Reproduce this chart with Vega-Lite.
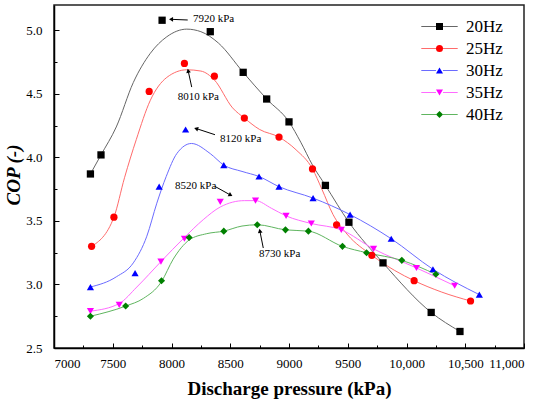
{
  "$schema": "https://vega.github.io/schema/vega-lite/v6.json",
  "description": "COP against discharge pressure for five compressor frequencies",
  "width": 470,
  "height": 343,
  "autosize": {"type": "none"},
  "padding": {"left": 54, "top": 5, "right": 26, "bottom": 56},
  "background": "white",
  "datasets": {
    "markers": [
      {"series": "20Hz", "p": 7310, "cop": 3.87}, {"series": "20Hz", "p": 7400, "cop": 4.02},
      {"series": "20Hz", "p": 7920, "cop": 5.08}, {"series": "20Hz", "p": 8330, "cop": 4.99},
      {"series": "20Hz", "p": 8610, "cop": 4.67}, {"series": "20Hz", "p": 8810, "cop": 4.46},
      {"series": "20Hz", "p": 9000, "cop": 4.28}, {"series": "20Hz", "p": 9310, "cop": 3.78},
      {"series": "20Hz", "p": 9510, "cop": 3.49}, {"series": "20Hz", "p": 9800, "cop": 3.17},
      {"series": "20Hz", "p": 10210, "cop": 2.78}, {"series": "20Hz", "p": 10455, "cop": 2.63},
      {"series": "25Hz", "p": 7320, "cop": 3.3}, {"series": "25Hz", "p": 7510, "cop": 3.53},
      {"series": "25Hz", "p": 7810, "cop": 4.52}, {"series": "25Hz", "p": 8110, "cop": 4.74},
      {"series": "25Hz", "p": 8365, "cop": 4.64}, {"series": "25Hz", "p": 8620, "cop": 4.31},
      {"series": "25Hz", "p": 8915, "cop": 4.16}, {"series": "25Hz", "p": 9200, "cop": 3.91},
      {"series": "25Hz", "p": 9405, "cop": 3.47}, {"series": "25Hz", "p": 9705, "cop": 3.23},
      {"series": "25Hz", "p": 10065, "cop": 3.03}, {"series": "25Hz", "p": 10545, "cop": 2.87},
      {"series": "30Hz", "p": 7310, "cop": 2.98}, {"series": "30Hz", "p": 7690, "cop": 3.09},
      {"series": "30Hz", "p": 7895, "cop": 3.77}, {"series": "30Hz", "p": 8120, "cop": 4.22},
      {"series": "30Hz", "p": 8445, "cop": 3.94}, {"series": "30Hz", "p": 8745, "cop": 3.85},
      {"series": "30Hz", "p": 8915, "cop": 3.77}, {"series": "30Hz", "p": 9205, "cop": 3.68},
      {"series": "30Hz", "p": 9520, "cop": 3.55}, {"series": "30Hz", "p": 9870, "cop": 3.36},
      {"series": "30Hz", "p": 10225, "cop": 3.12}, {"series": "30Hz", "p": 10620, "cop": 2.92},
      {"series": "35Hz", "p": 7310, "cop": 2.79}, {"series": "35Hz", "p": 7555, "cop": 2.84},
      {"series": "35Hz", "p": 7910, "cop": 3.18}, {"series": "35Hz", "p": 8110, "cop": 3.36},
      {"series": "35Hz", "p": 8415, "cop": 3.65}, {"series": "35Hz", "p": 8715, "cop": 3.66},
      {"series": "35Hz", "p": 8975, "cop": 3.54}, {"series": "35Hz", "p": 9190, "cop": 3.48},
      {"series": "35Hz", "p": 9445, "cop": 3.43}, {"series": "35Hz", "p": 9720, "cop": 3.28},
      {"series": "35Hz", "p": 10085, "cop": 3.13}, {"series": "35Hz", "p": 10410, "cop": 2.99},
      {"series": "40Hz", "p": 7310, "cop": 2.75}, {"series": "40Hz", "p": 7610, "cop": 2.83},
      {"series": "40Hz", "p": 7915, "cop": 3.03}, {"series": "40Hz", "p": 8150, "cop": 3.37},
      {"series": "40Hz", "p": 8445, "cop": 3.42}, {"series": "40Hz", "p": 8730, "cop": 3.47},
      {"series": "40Hz", "p": 8970, "cop": 3.43}, {"series": "40Hz", "p": 9165, "cop": 3.42},
      {"series": "40Hz", "p": 9455, "cop": 3.3}, {"series": "40Hz", "p": 9660, "cop": 3.25},
      {"series": "40Hz", "p": 9960, "cop": 3.19}, {"series": "40Hz", "p": 10250, "cop": 3.08}
    ],
    "curves": [
      {"series": "20Hz", "p": 7310, "cop": 3.87}, {"series": "20Hz", "p": 7400, "cop": 4.02},
      {"series": "20Hz", "p": 7530, "cop": 4.24}, {"series": "20Hz", "p": 7675, "cop": 4.59},
      {"series": "20Hz", "p": 7820, "cop": 4.82}, {"series": "20Hz", "p": 7960, "cop": 4.95},
      {"series": "20Hz", "p": 8130, "cop": 5.01}, {"series": "20Hz", "p": 8250, "cop": 4.99},
      {"series": "20Hz", "p": 8400, "cop": 4.9}, {"series": "20Hz", "p": 8610, "cop": 4.67},
      {"series": "20Hz", "p": 8810, "cop": 4.46}, {"series": "20Hz", "p": 9000, "cop": 4.28},
      {"series": "20Hz", "p": 9100, "cop": 4.12}, {"series": "20Hz", "p": 9200, "cop": 3.94},
      {"series": "20Hz", "p": 9310, "cop": 3.78}, {"series": "20Hz", "p": 9510, "cop": 3.49},
      {"series": "20Hz", "p": 9800, "cop": 3.17}, {"series": "20Hz", "p": 10210, "cop": 2.78},
      {"series": "20Hz", "p": 10455, "cop": 2.63},
      {"series": "25Hz", "p": 7320, "cop": 3.3}, {"series": "25Hz", "p": 7510, "cop": 3.53},
      {"series": "25Hz", "p": 7600, "cop": 3.84}, {"series": "25Hz", "p": 7700, "cop": 4.14},
      {"series": "25Hz", "p": 7820, "cop": 4.45}, {"series": "25Hz", "p": 7960, "cop": 4.63},
      {"series": "25Hz", "p": 8130, "cop": 4.69}, {"series": "25Hz", "p": 8250, "cop": 4.68},
      {"series": "25Hz", "p": 8365, "cop": 4.61}, {"series": "25Hz", "p": 8520, "cop": 4.39},
      {"series": "25Hz", "p": 8620, "cop": 4.31}, {"series": "25Hz", "p": 8750, "cop": 4.22},
      {"series": "25Hz", "p": 8915, "cop": 4.16}, {"series": "25Hz", "p": 9060, "cop": 4.06},
      {"series": "25Hz", "p": 9200, "cop": 3.91}, {"series": "25Hz", "p": 9280, "cop": 3.75},
      {"series": "25Hz", "p": 9375, "cop": 3.55}, {"series": "25Hz", "p": 9500, "cop": 3.39},
      {"series": "25Hz", "p": 9705, "cop": 3.23}, {"series": "25Hz", "p": 9900, "cop": 3.11},
      {"series": "25Hz", "p": 10065, "cop": 3.03}, {"series": "25Hz", "p": 10300, "cop": 2.94},
      {"series": "25Hz", "p": 10545, "cop": 2.87},
      {"series": "30Hz", "p": 7310, "cop": 2.98}, {"series": "30Hz", "p": 7530, "cop": 3.06},
      {"series": "30Hz", "p": 7675, "cop": 3.17}, {"series": "30Hz", "p": 7790, "cop": 3.38},
      {"series": "30Hz", "p": 7875, "cop": 3.64}, {"series": "30Hz", "p": 7955, "cop": 3.85},
      {"series": "30Hz", "p": 8045, "cop": 4.03}, {"series": "30Hz", "p": 8170, "cop": 4.11},
      {"series": "30Hz", "p": 8330, "cop": 4.03}, {"series": "30Hz", "p": 8445, "cop": 3.94},
      {"series": "30Hz", "p": 8600, "cop": 3.89}, {"series": "30Hz", "p": 8745, "cop": 3.85},
      {"series": "30Hz", "p": 8915, "cop": 3.77}, {"series": "30Hz", "p": 9205, "cop": 3.68},
      {"series": "30Hz", "p": 9520, "cop": 3.55}, {"series": "30Hz", "p": 9870, "cop": 3.36},
      {"series": "30Hz", "p": 10225, "cop": 3.12}, {"series": "30Hz", "p": 10620, "cop": 2.92},
      {"series": "35Hz", "p": 7310, "cop": 2.79}, {"series": "35Hz", "p": 7555, "cop": 2.85},
      {"series": "35Hz", "p": 7705, "cop": 2.98}, {"series": "35Hz", "p": 7910, "cop": 3.18},
      {"series": "35Hz", "p": 8110, "cop": 3.37}, {"series": "35Hz", "p": 8270, "cop": 3.51},
      {"series": "35Hz", "p": 8415, "cop": 3.61}, {"series": "35Hz", "p": 8620, "cop": 3.66},
      {"series": "35Hz", "p": 8715, "cop": 3.66}, {"series": "35Hz", "p": 8850, "cop": 3.6},
      {"series": "35Hz", "p": 8975, "cop": 3.54}, {"series": "35Hz", "p": 9190, "cop": 3.48},
      {"series": "35Hz", "p": 9445, "cop": 3.43}, {"series": "35Hz", "p": 9720, "cop": 3.28},
      {"series": "35Hz", "p": 10085, "cop": 3.13}, {"series": "35Hz", "p": 10410, "cop": 2.99},
      {"series": "40Hz", "p": 7310, "cop": 2.75}, {"series": "40Hz", "p": 7610, "cop": 2.83},
      {"series": "40Hz", "p": 7760, "cop": 2.89}, {"series": "40Hz", "p": 7913, "cop": 3.02},
      {"series": "40Hz", "p": 8015, "cop": 3.2}, {"series": "40Hz", "p": 8150, "cop": 3.35},
      {"series": "40Hz", "p": 8300, "cop": 3.4}, {"series": "40Hz", "p": 8445, "cop": 3.42},
      {"series": "40Hz", "p": 8600, "cop": 3.46}, {"series": "40Hz", "p": 8730, "cop": 3.47},
      {"series": "40Hz", "p": 8970, "cop": 3.43}, {"series": "40Hz", "p": 9165, "cop": 3.42},
      {"series": "40Hz", "p": 9455, "cop": 3.3}, {"series": "40Hz", "p": 9660, "cop": 3.25},
      {"series": "40Hz", "p": 9960, "cop": 3.19}, {"series": "40Hz", "p": 10250, "cop": 3.08}
    ],
    "notes": [
      {"label": "7920 kPa", "p": 8183, "cop": 5.09},
      {"label": "8010 kPa", "p": 8053, "cop": 4.476},
      {"label": "8120 kPa", "p": 8413, "cop": 4.147},
      {"label": "8520 kPa", "p": 8030, "cop": 3.772},
      {"label": "8730 kPa", "p": 8745, "cop": 3.242}
    ],
    "arrows": [
      {"p1": 8138, "c1": 5.082, "p2": 8002, "c2": 5.087, "angle": 270},
      {"p1": 8172, "c1": 4.554, "p2": 8143, "c2": 4.677, "angle": 348},
      {"p1": 8370, "c1": 4.179, "p2": 8215, "c2": 4.226, "angle": 288},
      {"p1": 8370, "c1": 3.772, "p2": 8498, "c2": 3.706, "angle": 119},
      {"p1": 8781, "c1": 3.287, "p2": 8753, "c2": 3.417, "angle": 349}
    ]
  },
  "layer": [
    {
      "data": {"name": "curves"},
      "mark": {"type": "line", "interpolate": "monotone", "strokeWidth": 1},
      "encoding": {
        "x": {
          "field": "p", "type": "quantitative",
          "scale": {"domain": [7000, 11000], "nice": false, "zero": false},
          "axis": {"orient": "bottom", "values": [7250, 7750, 8250, 8750, 9250, 9750, 10250, 10750], "labels": false, "domain": false, "tickSize": -3, "title": null}
        },
        "y": {
          "field": "cop", "type": "quantitative",
          "scale": {"domain": [2.5, 5.2], "nice": false, "zero": false},
          "axis": {"orient": "left", "values": [2.75, 3.25, 3.75, 4.25, 4.75], "labels": false, "domain": false, "tickSize": -3, "title": null}
        },
        "stroke": {
          "field": "series", "type": "nominal",
          "scale": {"range": ["#666666", "#ff6b6b", "#6b6bff", "#ff6bff", "#5fb55f"]},
          "legend": {
            "orient": "none", "legendX": 377, "legendY": 13, "title": null, "padding": 0,
            "labelFont": "Liberation Serif", "labelFontSize": 17, "labelOpacity": 0,
            "symbolType": "M-5.2,0H-1M1,0H5.2", "symbolSize": 49, "symbolStrokeWidth": 1,
            "labelOffset": 18, "rowPadding": 4
          }
        }
      }
    },
    {
      "data": {"name": "markers"},
      "mark": {"type": "point", "filled": true, "opacity": 1},
      "encoding": {
        "x": {
          "field": "p", "type": "quantitative",
          "axis": {
            "orient": "bottom", "values": [7000, 7500, 8000, 8500, 9000, 9500, 10000, 10500, 11000],
            "labelExpr": "datum.value >= 10000 ? format(datum.value, ',') : format(datum.value, 'd')",
            "ticks": false, "labelPadding": 9,
            "title": "Discharge pressure (kPa)", "titleY": 40, "titleBaseline": "middle"
          }
        },
        "y": {
          "field": "cop", "type": "quantitative",
          "axis": {
            "orient": "left", "values": [2.5, 3.0, 3.5, 4.0, 4.5, 5.0], "format": ".1f",
            "ticks": false, "labelPadding": 12,
            "title": "COP (-)", "titleFontStyle": "italic", "titleX": -41, "titleY": 169.5,
            "titleAlign": "center", "titleBaseline": "middle", "titleAngle": -90
          }
        },
        "color": {
          "field": "series", "type": "nominal",
          "scale": {"domain": ["20Hz", "25Hz", "30Hz", "35Hz", "40Hz"], "range": ["#000000", "#ff0000", "#0000ff", "#ff00ff", "#008000"]},
          "legend": {
            "orient": "none", "legendX": 377, "legendY": 13, "title": null, "padding": 0,
            "labelFont": "Liberation Serif", "labelFontSize": 17, "labelColor": "black",
            "symbolSize": 49, "symbolOpacity": 1, "labelOffset": 18, "rowPadding": 4
          }
        },
        "shape": {
          "field": "series", "type": "nominal",
          "scale": {"domain": ["20Hz", "25Hz", "30Hz", "35Hz", "40Hz"], "range": ["square", "circle", "triangle-up", "triangle-down", "diamond"]}
        },
        "size": {
          "field": "series", "type": "nominal",
          "scale": {"range": [53, 50, 105, 105, 72]},
          "legend": null
        }
      }
    },
    {
      "data": {"name": "notes"},
      "mark": {"type": "text", "align": "left", "baseline": "middle", "font": "Liberation Serif", "fontSize": 11, "color": "black"},
      "encoding": {
        "x": {
          "field": "p", "type": "quantitative",
          "axis": {"orient": "bottom", "values": [7000, 7500, 8000, 8500, 9000, 9500, 10000, 10500, 11000], "labels": false, "domain": false, "tickSize": -5, "title": null}
        },
        "y": {
          "field": "cop", "type": "quantitative",
          "axis": {"orient": "left", "values": [2.5, 3.0, 3.5, 4.0, 4.5, 5.0], "labels": false, "domain": false, "tickSize": -5, "title": null}
        },
        "text": {"field": "label"}
      }
    },
    {
      "data": {"name": "arrows"},
      "mark": {"type": "rule", "color": "black", "strokeWidth": 1},
      "encoding": {
        "x": {"field": "p1", "type": "quantitative", "axis": null},
        "y": {"field": "c1", "type": "quantitative", "axis": null},
        "x2": {"field": "p2"},
        "y2": {"field": "c2"}
      }
    },
    {
      "data": {"name": "arrows"},
      "mark": {"type": "point", "shape": "triangle", "filled": true, "color": "black", "size": 22, "opacity": 1},
      "encoding": {
        "x": {"field": "p2", "type": "quantitative", "axis": null},
        "y": {"field": "c2", "type": "quantitative", "axis": null},
        "angle": {"field": "angle", "type": "quantitative", "scale": null}
      }
    }
  ],
  "resolve": {"axis": {"x": "independent", "y": "independent"}},
  "config": {
    "font": "Liberation Serif",
    "view": {"stroke": "#222222", "strokeWidth": 1.5},
    "axis": {
      "grid": false,
      "labelFont": "Liberation Serif", "labelFontSize": 13, "labelColor": "black",
      "titleFont": "Liberation Serif", "titleFontSize": 19, "titleFontWeight": "bold", "titleColor": "black",
      "domainColor": "black", "domainWidth": 1.5, "tickColor": "black", "tickWidth": 1
    }
  }
}
